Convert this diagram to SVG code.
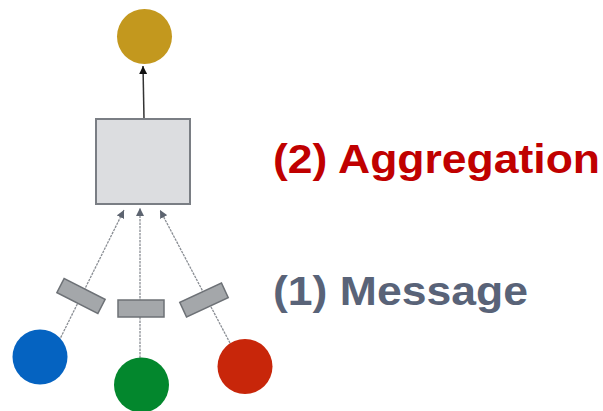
<svg xmlns="http://www.w3.org/2000/svg" width="603" height="411" viewBox="0 0 603 411">
<style>
.edge{stroke:#8a8e94;stroke-width:1.3;stroke-dasharray:2.5 1;fill:none}
.msg{fill:#a4a7aa;stroke:#6d7176;stroke-width:1.5}
.lbl{font-family:"Liberation Sans",Arial,sans-serif;font-weight:bold;font-size:40px}
</style>
<defs>
<marker id="ag" markerWidth="8" markerHeight="8" viewBox="0 0 10 10" refX="10" refY="5" orient="auto" markerUnits="userSpaceOnUse">
<path d="M0,0 L10,5 L0,10 z" fill="#5d6470"/>
</marker>
<marker id="ab" markerWidth="8" markerHeight="8" viewBox="0 0 10 10" refX="10" refY="5" orient="auto" markerUnits="userSpaceOnUse">
<path d="M0,0 L10,5 L0,10 z" fill="#111"/>
</marker>
</defs>
<rect width="603" height="411" fill="#fff"/>
<g id="connectors">
<line x1="144" y1="119" x2="143" y2="66" stroke="#333" stroke-width="1.5" marker-end="url(#ab)"/>
<line class="edge" x1="56" y1="347" x2="124" y2="210" marker-end="url(#ag)"/>
<line class="edge" x1="140" y1="358" x2="140" y2="208" marker-end="url(#ag)"/>
<line class="edge" x1="230" y1="343" x2="160" y2="210" marker-end="url(#ag)"/>
</g>
<g id="target"><circle cx="144.5" cy="36.5" r="27.5" fill="#c3981e"/></g>
<g id="aggregator"><rect x="96" y="119" width="94" height="85" fill="#dcdde0" stroke="#7a7e84" stroke-width="2"/></g>
<g id="msg-left"><rect class="msg" x="58" y="288" width="46" height="16" transform="rotate(27 81 296)"/></g>
<g id="msg-mid"><rect class="msg" x="118" y="300" width="46" height="17"/></g>
<g id="msg-right"><rect class="msg" x="181" y="292" width="46" height="16" transform="rotate(-25 204 300)"/></g>
<g id="src-blue"><circle cx="40" cy="357" r="27.5" fill="#0563c1"/></g>
<g id="src-green"><circle cx="141.5" cy="385" r="27.5" fill="#03872d"/></g>
<g id="src-red"><circle cx="245" cy="366.5" r="27.5" fill="#c8260a"/></g>
<g id="labels">
<text class="lbl" x="273" y="173" fill="#c00000" textLength="327" lengthAdjust="spacingAndGlyphs">(2) Aggregation</text>
<text class="lbl" x="273" y="305" fill="#596378" textLength="255" lengthAdjust="spacingAndGlyphs">(1) Message</text>
</g>
</svg>
